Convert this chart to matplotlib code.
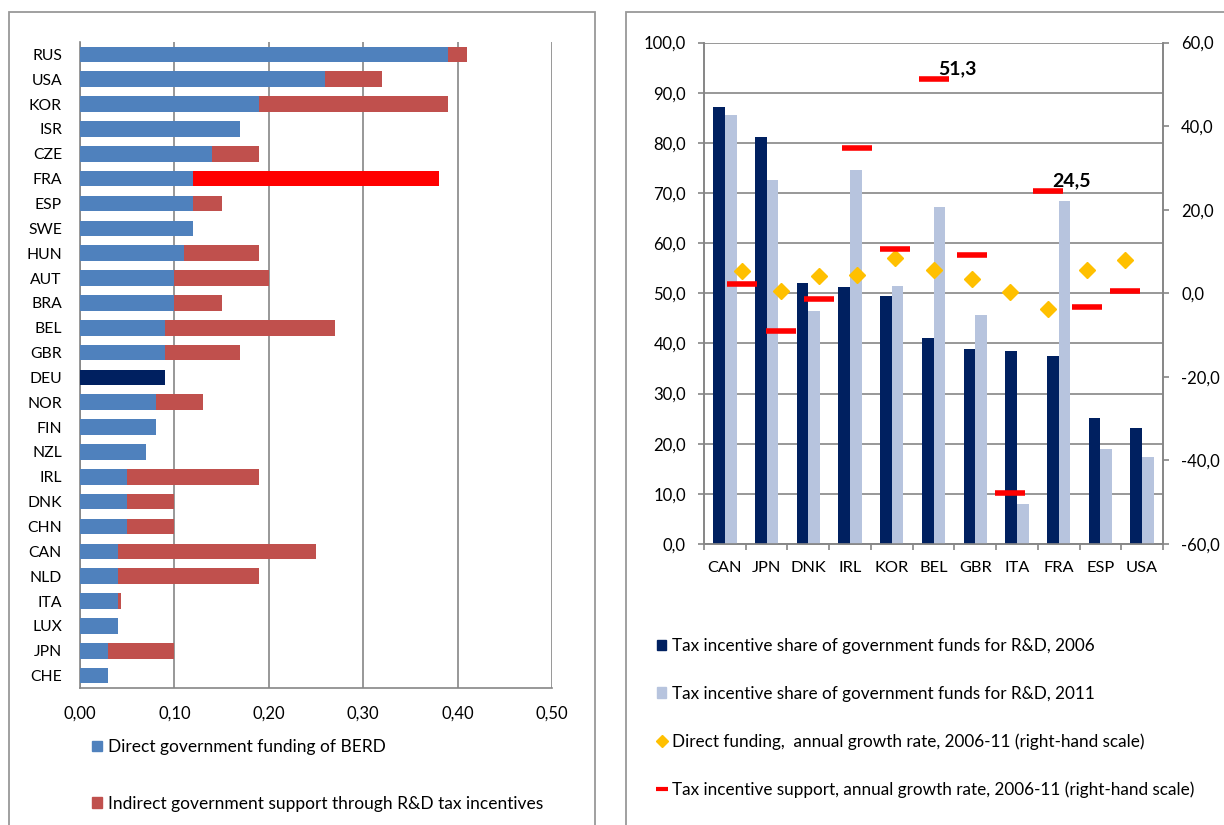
import numpy as np
import matplotlib
matplotlib.use("Agg")
import matplotlib.pyplot as plt
from matplotlib.patches import Patch, Rectangle
from matplotlib.lines import Line2D
from matplotlib.ticker import FuncFormatter, FixedLocator

plt.rcParams['font.family'] = ['Lato', 'DejaVu Sans']

# left panel: government support for business R&D, % of GDP
countries = ['RUS', 'USA', 'KOR', 'ISR', 'CZE', 'FRA', 'ESP', 'SWE', 'HUN', 'AUT', 'BRA', 'BEL', 'GBR',
             'DEU', 'NOR', 'FIN', 'NZL', 'IRL', 'DNK', 'CHN', 'CAN', 'NLD', 'ITA', 'LUX', 'JPN', 'CHE']
direct = [0.39, 0.26, 0.19, 0.17, 0.14, 0.12, 0.12, 0.12, 0.11, 0.10, 0.10, 0.09, 0.09,
          0.09, 0.08, 0.08, 0.07, 0.05, 0.05, 0.05, 0.04, 0.04, 0.04, 0.04, 0.03, 0.03]
indirect = [0.02, 0.06, 0.20, 0.00, 0.05, 0.26, 0.03, 0.00, 0.08, 0.10, 0.05, 0.18, 0.08,
            0.00, 0.05, 0.00, 0.00, 0.14, 0.05, 0.05, 0.21, 0.15, 0.003, 0.00, 0.07, 0.00]
left_labels = ['Direct government funding of BERD',
               'Indirect government support through R&D tax incentives']

# right panel
groups = ['CAN', 'JPN', 'DNK', 'IRL', 'KOR', 'BEL', 'GBR', 'ITA', 'FRA', 'ESP', 'USA']
share_2006 = [87.2, 81.2, 52.0, 51.3, 49.5, 41.0, 38.9, 38.5, 37.5, 25.1, 23.1]
share_2011 = [85.5, 72.5, 46.5, 74.6, 51.4, 67.1, 45.7, 8.0, 68.3, 19.0, 17.4]
direct_growth = [5.4, 0.5, 4.2, 4.3, 8.4, 5.6, 3.3, 0.4, -3.7, 5.6, 8.0]
tax_growth = [2.3, -9.1, -1.3, 34.8, 10.7, 51.3, 9.2, -47.7, 24.5, -3.4, 0.6]
right_labels = ['Tax incentive share of government funds for R&D, 2006',
                'Tax incentive share of government funds for R&D, 2011',
                'Direct funding,  annual growth rate, 2006-11 (right-hand scale)',
                'Tax incentive support, annual growth rate, 2006-11 (right-hand scale)']

BLUE = '#4F81BD'
RED = '#C0504D'
NAVY = '#002060'
LIGHT = '#B7C4DE'
GOLD = '#FFC000'
BRIGHT = '#FF0000'
GRID = '#868686'

W, H = 1224, 825
fig = plt.figure(figsize=(W / 100, H / 100), dpi=100)


def px(l, t, r, b):
    return [l / W, 1 - b / H, (r - l) / W, (b - t) / H]


def comma(fmt):
    return FuncFormatter(lambda v, p: format(v, fmt).replace('.', ','))


# panel frames
fig.patches.append(Rectangle((9 / W, -0.05), (595 - 9) / W, 1.05 - 12 / H, transform=fig.transFigure,
                             fill=False, ec='#999999', lw=1.3))
fig.patches.append(Rectangle((626 / W, -0.05), 0.5, 1.05 - 12 / H, transform=fig.transFigure,
                             fill=False, ec='#999999', lw=1.3))

# ---- left chart
ax = fig.add_axes(px(80, 42, 552, 688))
y = np.arange(len(countries))
dcol = [NAVY if c == 'DEU' else BLUE for c in countries]
icol = [BRIGHT if c == 'FRA' else RED for c in countries]
ax.barh(y, direct, height=0.63, color=dcol, zorder=3)
ax.barh(y, indirect, left=direct, height=0.63, color=icol, zorder=3)
ax.set_ylim(len(countries) - 0.5, -0.5)
ax.set_xlim(0, 0.5)
ax.set_yticks(y)
ax.set_yticklabels(countries, fontsize=11.3)
ax.set_xticks(np.arange(0, 0.51, 0.1))
ax.xaxis.set_major_formatter(comma('.2f'))
ax.tick_params(axis='y', length=0, pad=13)
ax.tick_params(axis='x', length=0, pad=13, labelsize=12)
ax.grid(axis='x', color=GRID, lw=1.2, zorder=0)
for s in ['top', 'right']:
    ax.spines[s].set_visible(False)
for s in ['left', 'bottom']:
    ax.spines[s].set_color(GRID)
    ax.spines[s].set_linewidth(1.2)

lh = [Patch(color=BLUE), Patch(color=RED)]
fig.legend(lh, left_labels, loc='upper left', bbox_to_anchor=(92 / W, 1 - 739 / H), frameon=False,
           fontsize=12.5, handlelength=0.55, handleheight=0.55, handletextpad=0.35, labelspacing=2.35,
           borderaxespad=0, borderpad=0)

# ---- right chart
ax1 = fig.add_axes(px(704, 42.5, 1163, 544))
x = np.arange(len(groups))
bw = 0.28
ax1.bar(x - bw / 2, share_2006, width=bw, color=NAVY, zorder=3)
ax1.bar(x + bw / 2, share_2011, width=bw, color=LIGHT, zorder=3)
ax1.set_xlim(-0.5, len(groups) - 0.5)
ax1.set_ylim(0, 100)
ax1.set_yticks(np.arange(0, 101, 10))
ax1.yaxis.set_major_formatter(comma('.1f'))
ax1.grid(axis='y', color=GRID, lw=1.2, zorder=0)
ax1.set_xticks(x)
ax1.set_xticklabels(groups, fontsize=11.8)
ax1.xaxis.set_minor_locator(FixedLocator(np.arange(-0.5, len(groups), 1)))
ax1.tick_params(axis='x', which='major', length=0, pad=12)
ax1.tick_params(axis='x', which='minor', length=4, color=GRID, width=1.2, direction='out')
ax1.tick_params(axis='y', length=4, color=GRID, width=1.2, pad=9, labelsize=12)
ax1.spines['top'].set_visible(False)
for s in ['left', 'bottom', 'right']:
    ax1.spines[s].set_color(GRID)
    ax1.spines[s].set_linewidth(1.2)

ax2 = ax1.twinx()
ax2.set_ylim(-60, 60)
ax2.set_yticks(np.arange(-60, 61, 20))
ax2.yaxis.set_major_formatter(comma('.1f'))
ax2.tick_params(axis='y', length=4, color=GRID, width=1.2, pad=9, labelsize=12)
ax2.spines['top'].set_visible(False)
for s in ['left', 'bottom', 'right']:
    ax2.spines[s].set_color(GRID)
    ax2.spines[s].set_linewidth(1.2)
# line-type series sit on their own category scale (n+1 slots)
n = len(groups)
xm = -0.5 + (np.arange(n) + 1) * n / (n + 1)
ax2.plot(xm, direct_growth, ls='none', marker='D', ms=7.8, color=GOLD, mec=GOLD, zorder=4)
ax2.plot(xm, tax_growth, ls='none', marker='_', ms=21.5, mew=4, color=BRIGHT, zorder=5)
for i in [5, 8]:
    ax2.annotate(format(tax_growth[i], '.1f').replace('.', ','), (xm[i], tax_growth[i]),
                 xytext=(17, 7.5), textcoords='offset points', ha='center', va='center',
                 fontsize=14, fontweight='bold')

rh = [Patch(color=NAVY), Patch(color=LIGHT),
      Line2D([], [], ls='none', marker='D', ms=6, color=GOLD),
      Line2D([], [], ls='none', marker='_', ms=9, mew=3, color=BRIGHT)]
fig.legend(rh, right_labels, loc='upper left', bbox_to_anchor=(657 / W, 1 - 638 / H), frameon=False,
           fontsize=12.3, handlelength=0.55, handleheight=0.55, handletextpad=0.35, labelspacing=1.85,
           borderaxespad=0, borderpad=0)

fig.savefig('out.png', dpi=100)
